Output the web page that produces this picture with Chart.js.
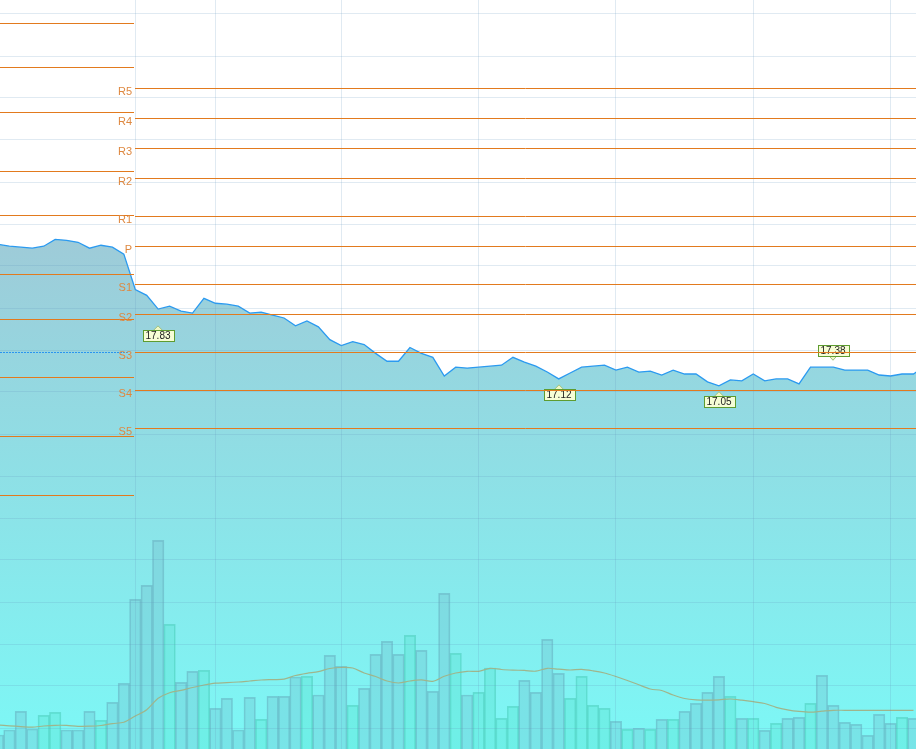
<!DOCTYPE html>
<html><head><meta charset="utf-8">
<script src="https://cdn.jsdelivr.net/npm/chart.js@4.4.1/dist/chart.umd.min.js"></script>
<style>html,body{margin:0;padding:0;background:#fff;overflow:hidden}#wrap{width:916px;height:749px;position:relative}</style>
</head><body><div id="wrap"><canvas id="c"></canvas></div>
<script>
// bar index of first value (previous session starts at -1, today's session opens at 11)
const firstIndex = -1;
const dayStart = 11;
const prices = [18.49,18.47,18.46,18.45,18.47,18.54,18.53,18.51,18.45,18.48,18.46,18.39,
  18.03,17.97,17.83,17.86,17.81,17.79,17.94,17.89,17.88,17.86,17.79,17.80,17.77,17.74,17.66,17.71,17.65,
  17.52,17.46,17.50,17.47,17.38,17.30,17.30,17.44,17.38,17.34,17.15,17.24,17.23,17.24,17.25,17.26,17.34,
  17.29,17.25,17.19,17.12,17.18,17.24,17.25,17.26,17.21,17.24,17.19,17.20,17.16,17.21,17.17,17.17,17.09,
  17.05,17.11,17.10,17.17,17.10,17.12,17.12,17.07,17.24,17.24,17.24,17.21,17.21,17.21,17.16,17.15,17.17,17.17,17.25];
const volumes = [1400,1900,3770,2000,3370,3670,1900,1900,3770,2870,4670,6570,14970,16370,20870,12470,6670,7770,7870,
  4070,5070,1900,5170,2970,5270,5270,7200,7270,5400,9370,8270,4370,6070,9470,10770,9470,11370,9870,5770,15570,9570,
  5400,5670,8100,3070,4270,6870,5670,10970,7570,5070,7270,4370,4070,2770,1970,2070,1970,2970,2970,3770,4570,5670,
  7270,5270,3070,3070,1870,2570,3070,3170,4570,7370,4370,2670,2470,1370,3470,2570,3170,3070];
const volumeMA = [2400,2320,2240,2180,2300,2370,2360,2270,2280,2350,2540,2680,3300,3930,5070,5630,5870,6150,6400,
  6580,6630,6700,6800,6900,6940,6980,7350,7570,7730,8050,8150,8100,7600,7250,6800,6600,6800,6910,6770,7270,7600,
  7770,7770,8070,7950,7890,7860,7780,8070,7980,7900,7960,7820,7600,7250,6850,6420,6000,5850,5400,5050,4910,4880,
  4920,5000,4880,4730,4550,4170,3920,3760,3680,3780,3870,3870,3870,3870,3870,3870,3870,3870];
const pivotNames = ['R5','R4','R3','R2','R1','P','S1','S2','S3','S4','S5'];
const pivotToday = [20.08,19.77,19.47,19.16,18.78,18.47,18.09,17.78,17.39,17.01,16.62];
const pivotPrev = [20.74,20.29,19.84,19.24,18.79,18.19,17.73,17.14,16.54,15.94];
const prevRefLevel = 17.39;
const markIdx = [13,48,62,72];
const markText = ['17.83','17.12','17.05','17.38'];
const markAt = [17.66,17.06,16.99,17.31];
const markDir = ['up','up','up','down'];
const xGridTicks = [11,18,29,41,53,65,77];
const yGridTicks = [20.833,20.405,19.978,19.551,19.123,18.696,18.269,17.841,17.414,16.987,16.559,16.132,15.705,15.278,14.850,14.423,13.996,13.568];

const pricePts = prices.map((v,i)=>({x:firstIndex+i,y:v}));
const volPts = volumes.map((v,i)=>({x:firstIndex+i,y:v}));
const maPts = volumeMA.map((v,i)=>({x:firstIndex+i,y:v}));
const upFlags = volumes.map((v,i)=> i>0 && prices[i] > prices[i-1]);
const volFill = upFlags.map(u=> u ? 'rgba(80,222,200,0.30)' : 'rgba(110,172,195,0.26)');
const volBorder = upFlags.map(u=> u ? 'rgba(70,200,180,0.5)' : 'rgba(95,160,180,0.45)');

const gridColor = 'rgba(100,150,190,0.2)';

const overlay = {
  id:'overlay',
  afterDraw(chart){
    const {ctx, chartArea:a, scales:{x,y}} = chart;
    const xb = Math.round(x.getPixelForValue(dayStart));
    ctx.save();
    // marks
    ctx.font = '10px "Liberation Sans", Arial, sans-serif';
    markIdx.forEach((mi,k)=>{
      const px = Math.round(x.getPixelForValue(mi));
      const ty = y.getPixelForValue(markAt[k]);
      const w = Math.round(ctx.measureText(markText[k]).width) + 6, h = 11;
      const up = markDir[k]==='up';
      const by = up ? Math.round(ty+4)+0.5 : Math.round(ty-15)+0.5;
      ctx.beginPath();
      if(up){ ctx.moveTo(px,ty); ctx.lineTo(px-5,ty+5); ctx.lineTo(px+5,ty+5); }
      else { ctx.moveTo(px,ty); ctx.lineTo(px-5,ty-5.5); ctx.lineTo(px+5,ty-5.5); }
      ctx.closePath();
      ctx.fillStyle='#eef8c6'; ctx.fill();
      ctx.strokeStyle='#9fc07e'; ctx.lineWidth=1; ctx.stroke();
      const bx = Math.round(px - w/2)+0.5;
      ctx.fillStyle='#f6fdd6'; ctx.fillRect(bx,by,w,h);
      ctx.strokeStyle='#5e9c30'; ctx.strokeRect(bx,by,w,h);
      ctx.fillStyle='#222'; ctx.textAlign='center'; ctx.textBaseline='middle';
      ctx.fillText(markText[k], px, by+h/2+0.5);
    });
    // pivot lines
    ctx.lineWidth = 1; ctx.strokeStyle = '#e27a1e';
    pivotPrev.forEach(v=>{
      const py = Math.round(y.getPixelForValue(v))+0.5;
      ctx.beginPath(); ctx.moveTo(a.left,py); ctx.lineTo(xb-1,py); ctx.stroke();
    });
    pivotToday.forEach(v=>{
      const py = Math.round(y.getPixelForValue(v))+0.5;
      ctx.beginPath(); ctx.moveTo(xb,py); ctx.lineTo(a.right,py); ctx.stroke();
    });
    // previous reference dotted line
    const ry = Math.round(y.getPixelForValue(prevRefLevel))+0.5;
    ctx.setLineDash([2,1]); ctx.strokeStyle='#2a95f0';
    ctx.beginPath(); ctx.moveTo(a.left,ry); ctx.lineTo(xb-6,ry); ctx.stroke();
    ctx.setLineDash([]);
    // pivot labels
    ctx.font = '11px "Liberation Sans", Arial, sans-serif';
    ctx.fillStyle = '#de8840'; ctx.textAlign='right'; ctx.textBaseline='alphabetic';
    pivotNames.forEach((n,i)=>{
      const py = Math.round(y.getPixelForValue(pivotToday[i]));
      ctx.fillText(n, xb-3, py+7);
    });
    ctx.restore();
  }
};

new Chart(document.getElementById('c'), {
  type:'bar',
  data:{datasets:[
    {type:'line', label:'Price', data:pricePts, yAxisID:'y', borderColor:'#2b9af0', borderWidth:1.3,
     pointRadius:0, tension:0, fill:'start', order:3,
     backgroundColor:(c)=>{
       const ch=c.chart, ar=ch.chartArea;
       if(!ar) return 'rgba(0,0,0,0)';
       const g=ch.ctx.createLinearGradient(0,ar.top,0,ar.bottom);
       g.addColorStop(0,'rgb(178,178,200)');
       g.addColorStop(0.32,'rgb(158,203,216)');
       g.addColorStop(1,'rgb(124,248,246)');
       return g;
     }},
    {type:'bar', label:'Volume', data:volPts, yAxisID:'yv', backgroundColor:volFill, borderColor:volBorder,
     borderWidth:1, barPercentage:1, categoryPercentage:1, order:2},
    {type:'line', label:'MA', data:maPts, yAxisID:'yv', borderColor:'#9fb58c', borderWidth:1.2,
     pointRadius:0, tension:0.3, fill:false, order:1}
  ]},
  options:{
    responsive:true, maintainAspectRatio:false, animation:false, events:[],
    layout:{padding:0},
    plugins:{legend:{display:false}, tooltip:{enabled:false}},
    scales:{
      x:{type:'linear', min:-0.8214, max:79.221, offset:false,
         afterBuildTicks:(s)=>{ s.ticks = xGridTicks.map(v=>({value:v})); },
         ticks:{display:false}, border:{display:false},
         grid:{color:gridColor, drawTicks:false, tickLength:0, z:1, offset:false}},
      y:{type:'linear', min:13.355, max:20.975,
         afterBuildTicks:(s)=>{ s.ticks = yGridTicks.map(v=>({value:v})); },
         ticks:{display:false}, border:{display:false},
         grid:{color:gridColor, drawTicks:false, tickLength:0, z:1}},
      yv:{type:'linear', min:0, max:74900, display:false}
    }
  },
  plugins:[overlay]
});
</script>
</body></html>
